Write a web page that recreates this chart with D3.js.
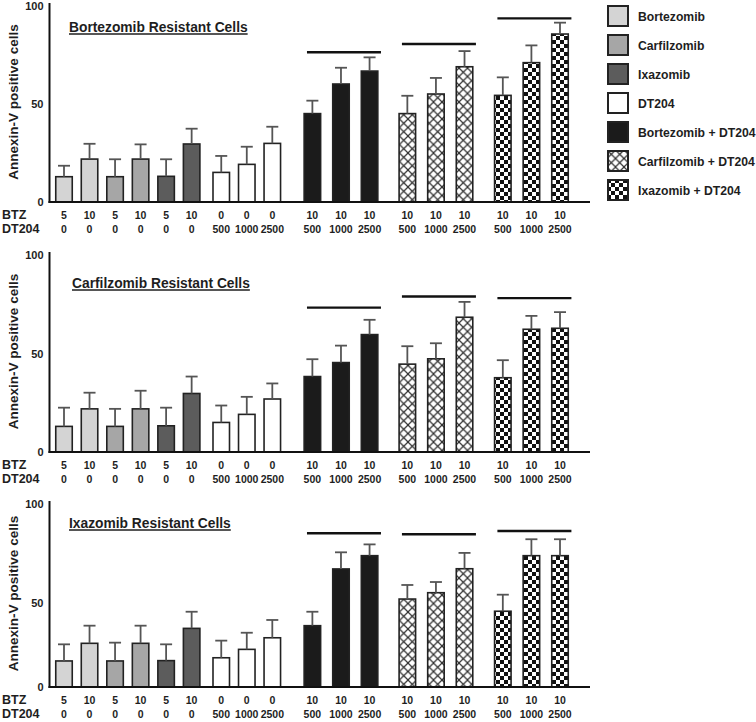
<!DOCTYPE html>
<html>
<head>
<meta charset="utf-8">
<script src="https://cdn.jsdelivr.net/npm/d3@7"></script>
<style>
  html, body { margin: 0; padding: 0; background: #fff; }
  svg { display: block; font-family: "Liberation Sans", Arial, Helvetica, sans-serif; font-weight: bold; }
</style>
</head>
<body>
<svg id="chart" width="756" height="722"></svg>
<script>
// ---------------- DATA ----------------
const treatments = [
  "Bortezomib","Bortezomib","Carfilzomib","Carfilzomib","Ixazomib","Ixazomib",
  "DT204","DT204","DT204",
  "Bortezomib + DT204","Bortezomib + DT204","Bortezomib + DT204",
  "Carfilzomib + DT204","Carfilzomib + DT204","Carfilzomib + DT204",
  "Ixazomib + DT204","Ixazomib + DT204","Ixazomib + DT204"
];
const btzLabels   = ["5","10","5","10","5","10","0","0","0","10","10","10","10","10","10","10","10","10"];
const dt204Labels = ["0","0","0","0","0","0","500","1000","2500","500","1000","2500","500","1000","2500","500","1000","2500"];
const legendItems = ["Bortezomib","Carfilzomib","Ixazomib","DT204","Bortezomib + DT204","Carfilzomib + DT204","Ixazomib + DT204"];
const panelTitles = ["Bortezomib Resistant Cells","Carfilzomib Resistant Cells","Ixazomib Resistant Cells"];
const yTickValues = [0, 50, 100];
const yAxisTitle = "Annexin-V positive cells";
const rowLabels = ["BTZ", "DT204"];

// Bortezomib resistant cells
const bortezomibResMean = [12.9,21.9,12.9,21.9,13.1,29.6,15.1,19.2,29.9,45.1,60.2,66.8,45.1,55.1,69.0,54.4,71.1,85.7];
const bortezomibResErr  = [5.6,7.8,8.9,7.5,8.7,7.8,8.4,9.0,8.5,6.6,8.3,7.0,9.1,8.2,8.0,9.2,8.8,5.8];
const bortezomibResSig  = [76.4,80.6,93.7];
// Carfilzomib resistant cells
const carfilzomibResMean = [13.0,21.9,13.0,21.9,13.3,29.7,15.0,19.1,26.9,38.3,45.4,59.6,44.6,47.3,68.4,37.7,62.3,62.8];
const carfilzomibResErr  = [9.5,8.2,8.9,9.2,9.2,8.6,8.6,8.9,7.9,8.8,8.6,7.5,9.1,7.9,7.8,8.9,6.8,8.2];
const carfilzomibResSig  = [73.3,78.9,78.1];
// Ixazomib resistant cells
const ixazomibResMean = [15.5,26.0,15.5,26.0,15.7,34.9,17.4,22.4,29.3,36.5,67.2,73.9,52.0,55.2,67.3,45.1,73.9,73.9];
const ixazomibResErr  = [9.9,10.5,10.9,10.5,9.7,9.9,10.2,9.9,10.6,8.3,8.4,5.7,7.1,5.4,8.0,9.1,8.3,8.3];
const ixazomibResSig  = [85.2,84.7,86.4];

// ---------------- LAYOUT ----------------
const svg = d3.select("#chart");
const textColor = "#1e1e1e";
const fills = {
  "Bortezomib": "#d4d4d4",
  "Carfilzomib": "#a6a6a6",
  "Ixazomib": "#5c5c5c",
  "DT204": "#ffffff",
  "Bortezomib + DT204": "#1b1b1b",
  "Carfilzomib + DT204": "url(#crosshatch)",
  "Ixazomib + DT204": "url(#checker)"
};

// patterns
const defs = svg.append("defs");
const ch = defs.append("pattern").attr("id","crosshatch").attr("patternUnits","userSpaceOnUse")
  .attr("width",8.5).attr("height",8.5);
ch.append("rect").attr("width",8.5).attr("height",8.5).attr("fill","#fff");
ch.append("path").attr("d","M0,0L8.5,8.5M8.5,0L0,8.5").attr("stroke","#2e2e2e").attr("stroke-width",1.2);
const ck = defs.append("pattern").attr("id","checker").attr("patternUnits","userSpaceOnUse")
  .attr("width",8).attr("height",8);
ck.append("rect").attr("width",8).attr("height",8).attr("fill","#fff");
ck.append("rect").attr("width",4).attr("height",4).attr("fill","#111");
ck.append("rect").attr("x",4).attr("y",4).attr("width",4).attr("height",4).attr("fill","#111");

// x slots (group structure)
const groupOf = treatments.map(t => ["Bortezomib","Carfilzomib","Ixazomib"].includes(t) ? 0 :
  t === "DT204" ? 1 : t === "Bortezomib + DT204" ? 2 : t === "Carfilzomib + DT204" ? 3 : 4);
const stepWithin = [1, 1, 1.12, 1.12, 1.12];
const stepBetween = [1.16, 1.57, 1.48, 1.5];
const slots = [];
groupOf.forEach((g, i) => {
  if (i === 0) slots.push(0);
  else if (g === groupOf[i-1]) slots.push(slots[i-1] + stepWithin[g]);
  else slots.push(slots[i-1] + stepBetween[groupOf[i-1]]);
});
const x = d3.scaleLinear().domain([0, d3.max(slots)]).range([64, 560]);
const barW = 18;
const axisX = 49.5, axisEnd = 590;

const panels = [
  {mean: bortezomibResMean, err: bortezomibResErr, sig: bortezomibResSig, title: panelTitles[0],
   yDomain:[0,100], yRange:[202,6], titleX:69, titleY:32},
  {mean: carfilzomibResMean, err: carfilzomibResErr, sig: carfilzomibResSig, title: panelTitles[1],
   yDomain:[0,100], yRange:[452,255], titleX:72, titleY:288},
  {mean: ixazomibResMean, err: ixazomibResErr, sig: ixazomibResSig, title: panelTitles[2],
   yDomain:[0,50,100], yRange:[687,603,504], titleX:69, titleY:528}
];

panels.forEach(p => {
  const y = d3.scaleLinear().domain(p.yDomain).range(p.yRange);
  const y0 = y(0), yTop = y(100);
  const g = svg.append("g");

  // y axis
  const yAxis = d3.axisLeft(y).tickValues(yTickValues).tickSize(0).tickPadding(6).tickFormat(d3.format("d"));
  const ga = g.append("g").attr("transform", `translate(${axisX},0)`).call(yAxis);
  ga.select(".domain").remove();
  ga.selectAll("text").attr("font-size", 11).attr("font-weight","bold").attr("fill", textColor)
    .attr("font-family", '"Liberation Sans", Arial, sans-serif');
  g.append("line").attr("x1",axisX).attr("x2",axisX).attr("y1",yTop-3).attr("y2",y0+1)
    .attr("stroke","#111").attr("stroke-width",2);

  // y title
  g.append("text").attr("transform", `translate(17.5,${(y0+yTop)/2 - 2}) rotate(-90)`)
    .attr("text-anchor","middle").attr("font-size",13.5).attr("fill",textColor).text(yAxisTitle);

  // panel title with underline
  const t = g.append("text").attr("x",p.titleX).attr("y",p.titleY).attr("font-size",13.8)
    .attr("fill",textColor).text(p.title);
  const tw = t.node().getComputedTextLength();
  g.append("line").attr("x1",p.titleX).attr("x2",p.titleX+tw).attr("y1",p.titleY+2).attr("y2",p.titleY+2)
    .attr("stroke",textColor).attr("stroke-width",1.3);

  // bars
  g.selectAll("rect.bar").data(p.mean).join("rect").attr("class","bar")
    .attr("x",(d,i)=>x(slots[i])-barW/2+0.75).attr("width",barW-1.5)
    .attr("y",d=>y(d)).attr("height",d=>y0-y(d))
    .attr("fill",(d,i)=>fills[treatments[i]]).attr("stroke","#222").attr("stroke-width",1.6);

  // error bars
  const eb = g.selectAll("g.err").data(p.mean).join("g").attr("class","err");
  eb.append("line").attr("x1",(d,i)=>x(slots[i])).attr("x2",(d,i)=>x(slots[i]))
    .attr("y1",d=>y(d)).attr("y2",(d,i)=>y(d+p.err[i])).attr("stroke","#555").attr("stroke-width",1.8);
  eb.append("line").attr("x1",(d,i)=>x(slots[i])-6).attr("x2",(d,i)=>x(slots[i])+6)
    .attr("y1",(d,i)=>y(d+p.err[i])).attr("y2",(d,i)=>y(d+p.err[i])).attr("stroke","#555").attr("stroke-width",1.8);

  // x axis
  g.append("line").attr("x1",axisX-1).attr("x2",axisEnd).attr("y1",y0).attr("y2",y0)
    .attr("stroke","#111").attr("stroke-width",2);

  // significance lines over combination groups
  [2,3,4].forEach((grp, k) => {
    const idx = groupOf.map((gg,i)=>gg===grp?i:-1).filter(i=>i>=0);
    const cx = (x(slots[idx[0]]) + x(slots[idx[idx.length-1]]))/2 + 3;
    g.append("line").attr("x1",cx-37).attr("x2",cx+37).attr("y1",y(p.sig[k])).attr("y2",y(p.sig[k]))
      .attr("stroke","#111").attr("stroke-width",2.4);
  });

  // x labels
  g.append("text").attr("x",2).attr("y",y0+17).attr("font-size",12.5).attr("fill",textColor).text(rowLabels[0]);
  g.append("text").attr("x",2).attr("y",y0+31).attr("font-size",12.5).attr("fill",textColor).text(rowLabels[1]);
  g.selectAll("text.btz").data(btzLabels).join("text").attr("class","btz")
    .attr("x",(d,i)=>x(slots[i])).attr("y",y0+17).attr("text-anchor","middle")
    .attr("font-size",10.5).attr("fill",textColor).text(d=>d);
  g.selectAll("text.dt").data(dt204Labels).join("text").attr("class","dt")
    .attr("x",(d,i)=>x(slots[i])).attr("y",y0+31).attr("text-anchor","middle")
    .attr("font-size",10.5).attr("fill",textColor).text(d=>d);
});

// legend
const lg = svg.append("g").attr("transform","translate(607,5)");
const li = lg.selectAll("g").data(legendItems).join("g").attr("transform",(d,i)=>`translate(0,${i*29})`);
li.append("rect").attr("x",1).attr("y",1).attr("width",20).attr("height",20)
  .attr("fill",d=>fills[d]).attr("stroke","#222").attr("stroke-width",2);
li.append("text").attr("x",31).attr("y",15.5).attr("font-size",12.2).attr("fill",textColor).text(d=>d);
</script>
</body>
</html>
